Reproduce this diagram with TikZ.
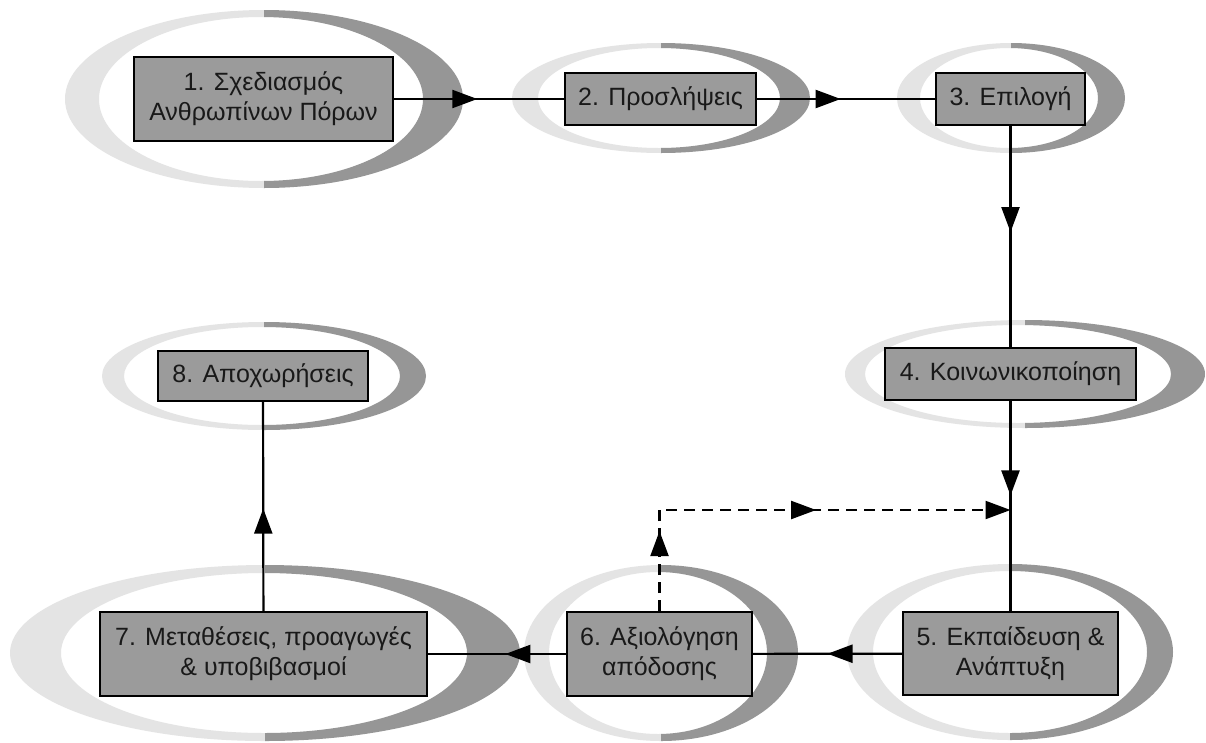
\documentclass[tikz,border=0pt]{standalone}
\usepackage{fontspec}
\setmainfont{Liberation Sans}
\usetikzlibrary{arrows.meta,decorations.markings}
\definecolor{boxgray}{RGB}{155,155,155}
\definecolor{ringdark}{RGB}{150,150,150}
\definecolor{ringlight}{RGB}{228,228,228}
\definecolor{txt}{RGB}{25,25,25}
% ring decoration: cx, cy, a, b, thickness, top thickness, inner shift left
\newcommand{\ringdeco}[7]{%
  \begin{scope}
    \clip (#1-#3-3,#2-#4-3) rectangle (#1,#2+#4+3);
    \fill[ringlight,even odd rule] (#1,#2) ellipse [x radius={#3*1pt}, y radius={#4*1pt}]
      (#1-#7,#2) ellipse [x radius={(#3-#5)*1pt}, y radius={(#4-#6)*1pt}];
  \end{scope}
  \begin{scope}
    \clip (#1,#2-#4-3) rectangle (#1+#3+3,#2+#4+3);
    \fill[ringdark,even odd rule] (#1,#2) ellipse [x radius={#3*1pt}, y radius={#4*1pt}]
      (#1-#7,#2) ellipse [x radius={(#3-#5)*1pt}, y radius={(#4-#6)*1pt}];
  \end{scope}}
\tikzset{
  tipshape/.tip={Triangle[length=25pt,width=18pt]},
  stepbox/.style={draw=black, line width=1.8pt, fill=boxgray, align=center,
    text=txt, font=\fontsize{25}{30}\selectfont, inner sep=0pt},
  flow/.style={line width=2.2pt, postaction=decorate,
    decoration={markings, mark=at position #1 with {\arrow{tipshape}}}},
  dashflow/.style={line width=2.2pt, dash pattern=on 11pt off 7pt,
    -{tipshape}, postaction=decorate,
    decoration={markings,
      mark=at position 0.177 with {\arrow{tipshape}},
      mark=at position 0.57 with {\arrow{tipshape}}}}
}
\begin{document}
\begin{tikzpicture}[x=1pt,y=-1pt]
\useasboundingbox (0,0) rectangle (1206,742);
\clip (0,0) rectangle (1206,742);
\fill[white] (0,0) rectangle (1206,742);
% rings
\ringdeco{264}{99}{199}{89}{37}{7}{3}
\ringdeco{661}{98}{149}{55}{28}{5}{2}
\ringdeco{1011}{98}{114}{55}{25}{5}{2}
\ringdeco{1025}{374}{180}{54}{27}{5}{7}
\ringdeco{1010}{652}{163}{88}{26}{7}{0}
\ringdeco{661}{653}{137}{88}{28}{7}{3}
\ringdeco{265}{653}{255}{88}{52}{8}{1}
\ringdeco{264}{376}{162}{54}{24}{5}{2}
% nodes
\node[stepbox, minimum width=259pt, minimum height=84pt] (n1) at (263.5,99) {1. Σχεδιασμός\\Ανθρωπίνων Πόρων};
\node[stepbox, minimum width=191pt, minimum height=52pt] (n2) at (660.5,99) {2. Προσλήψεις};
\node[stepbox, minimum width=149pt, minimum height=52pt] (n3) at (1010.5,99) {3. Επιλογή};
\node[stepbox, minimum width=251pt, minimum height=52pt] (n4) at (1010.5,374) {4. Κοινωνικοποίηση};
\node[stepbox, minimum width=215pt, minimum height=83pt] (n5) at (1010.5,653.5) {5. Εκπαίδευση \&\\Ανάπτυξη};
\node[stepbox, minimum width=185pt, minimum height=84pt] (n6) at (659.5,654) {6. Αξιολόγηση\\απόδοσης};
\node[stepbox, minimum width=327pt, minimum height=84pt] (n7) at (263.5,654) {7. Μεταθέσεις, προαγωγές\\\& υποβιβασμοί};
\node[stepbox, minimum width=210pt, minimum height=50pt] (n8) at (263,376) {8. Αποχωρήσεις};
% connectors
\draw[flow=0.49] (n1) -- (n2);
\draw[flow=0.47] (n2) -- (n3);
\draw[flow=0.48] (n3) -- (n4);
\draw[flow=0.45] (n4) -- (n5);
\draw[flow=0.50] (n5) -- (n6);
\draw[flow=0.44] (n6) -- (n7);
\draw[flow=0.49] (n7) -- (n8);
\coordinate (j) at (n4.south |- 0,510);
\draw[dashflow] (n6.north) -- (n6.north |- j) -- (j);
\end{tikzpicture}
\end{document}
